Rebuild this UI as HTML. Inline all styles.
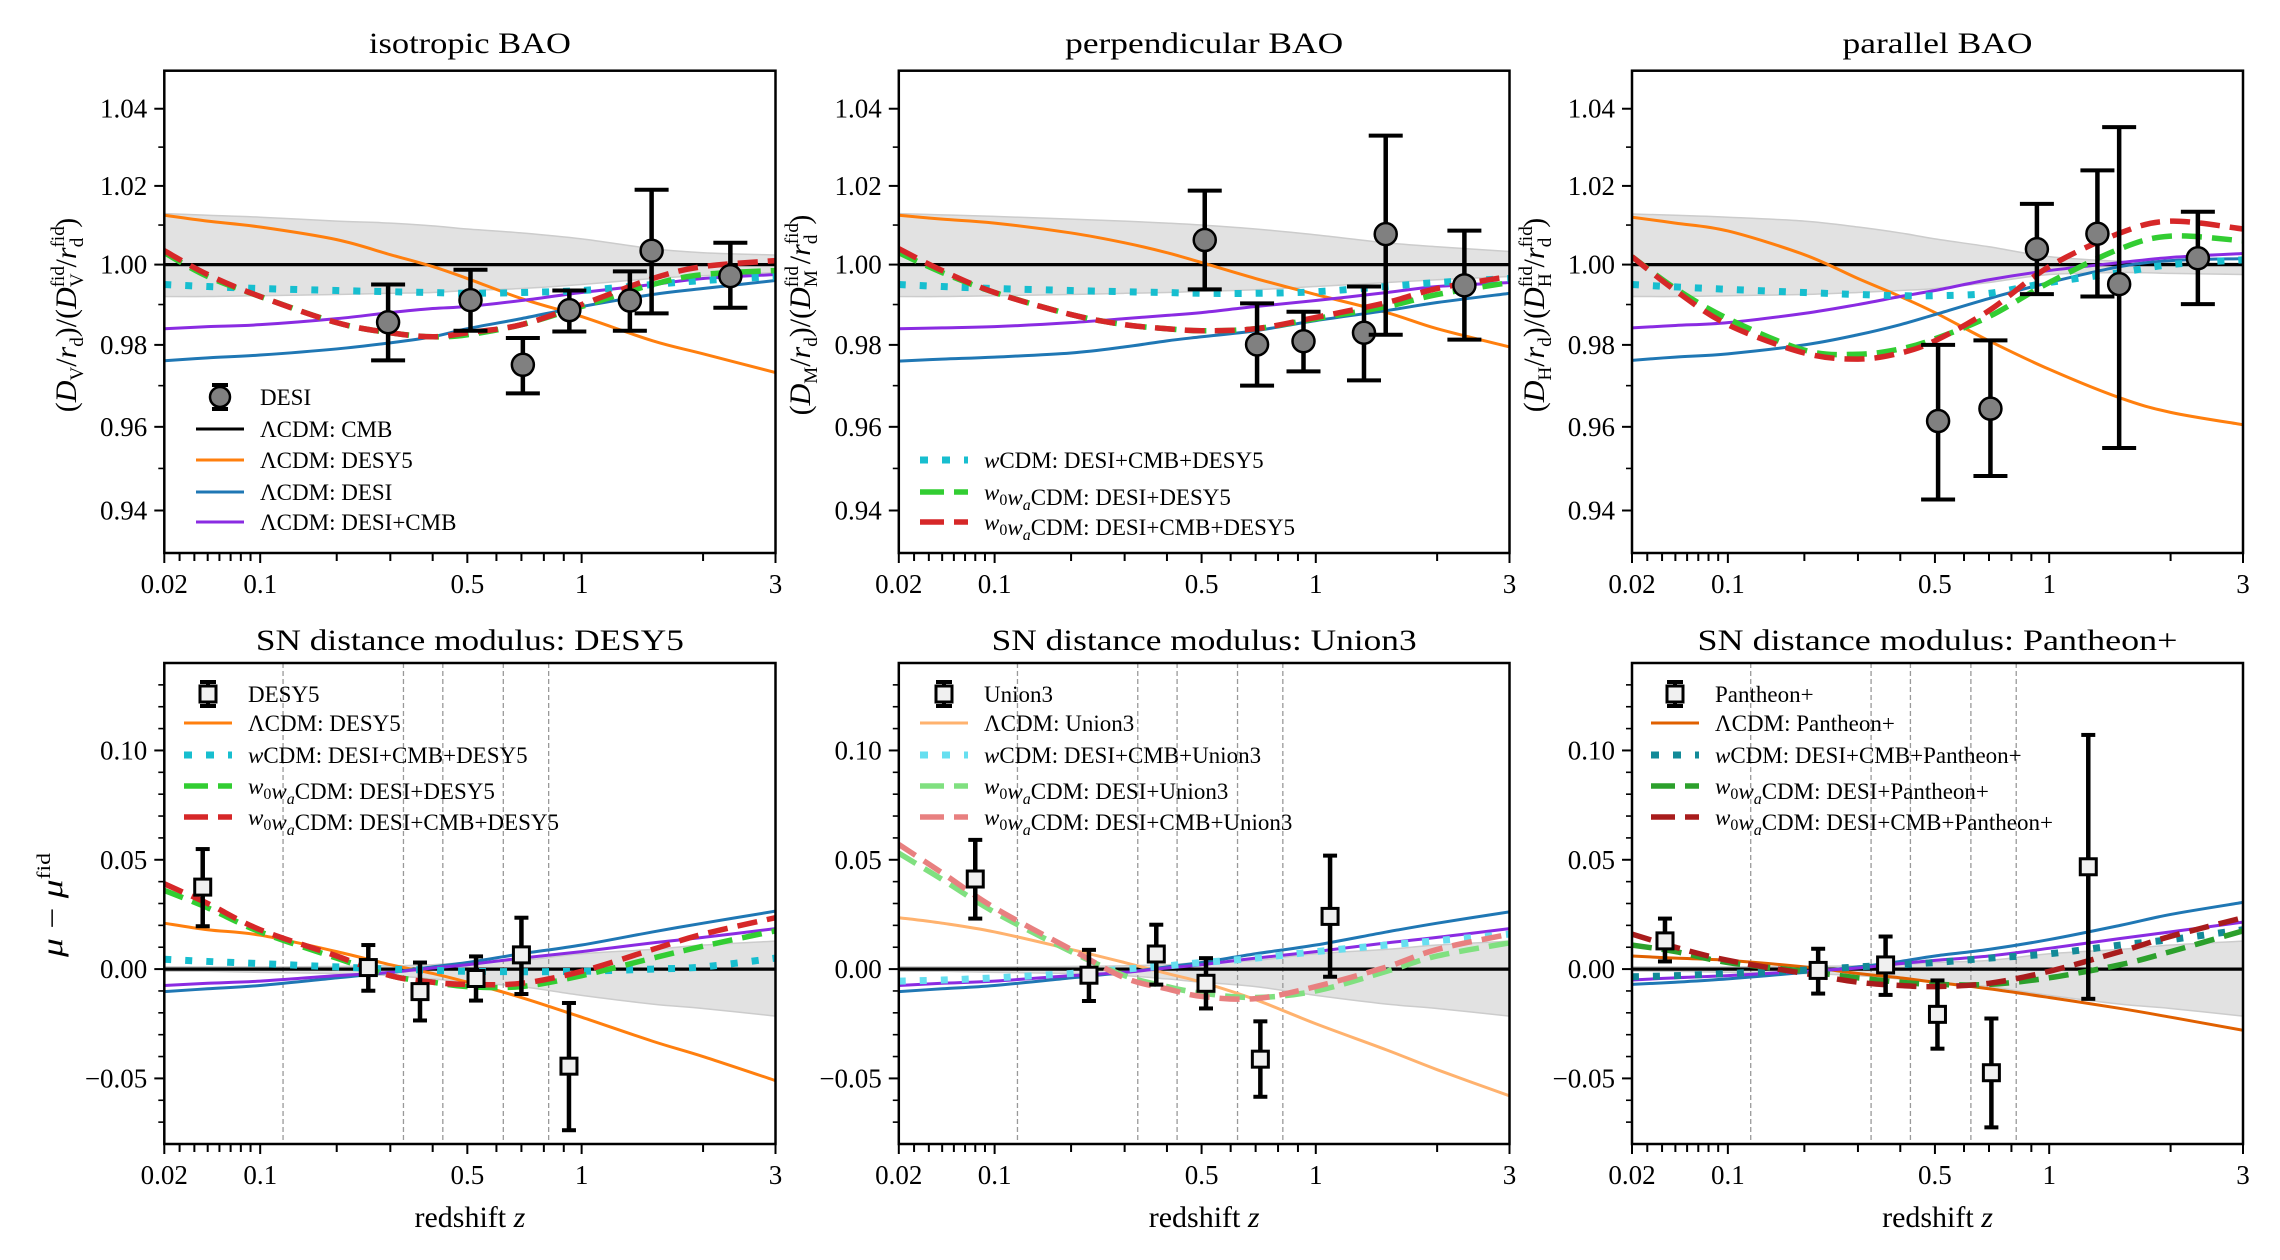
<!DOCTYPE html>
<html><head><meta charset="utf-8"><style>
html,body{margin:0;padding:0;background:#fff;}
svg{display:block;font-family:"Liberation Serif","DejaVu Serif",serif;}
</style></head><body>
<svg id="fig" xmlns="http://www.w3.org/2000/svg" width="2280" height="1260" viewBox="0 0 2280 1260"></svg>
<script>
// ---------- shared x grid for model curves ----------
const zc = [0.02,0.05,0.1,0.2,0.3,0.4,0.5,0.7,1,1.5,2,3];
// ---------- isotropic BAO ----------
const isoOrange = [1.0125,1.011,1.0095,1.0063,1.0025,0.9995,0.9965,0.9915,0.987,0.981,0.9778,0.9732];
const isoBlue   = [0.9761,0.9768,0.9775,0.979,0.9805,0.982,0.984,0.9865,0.9895,0.9925,0.994,0.996];
const isoPurple = [0.984,0.9845,0.985,0.9865,0.988,0.989,0.9895,0.991,0.993,0.995,0.9965,0.9975];
const isoCyan   = [0.995,0.9945,0.994,0.9935,0.9932,0.993,0.9928,0.993,0.9935,0.995,0.996,0.997];
const isoGreen  = [1.003,0.997,0.992,0.9855,0.983,0.982,0.9825,0.985,0.9895,0.995,0.9975,0.9985];
const isoRed    = [1.0035,0.9975,0.992,0.9855,0.983,0.982,0.983,0.985,0.990,0.9965,0.9995,1.001];
const isoBandHi = [1.0129,1.0125,1.012,1.011,1.0105,1.0098,1.009,1.008,1.0065,1.004,1.003,1.0024];
const isoBandLo = [0.992,0.992,0.9922,0.9925,0.9928,0.993,0.9935,0.994,0.995,0.9965,0.9972,0.998];
const isoZ   = [0.295,0.51,0.706,0.93,1.317,1.491,2.33];
const isoVal = [0.9856,0.9911,0.9751,0.9886,0.991,1.0035,0.9971];
const isoHi  = [0.995,0.9987,0.9817,0.9935,0.9983,1.019,1.0055];
const isoLo  = [0.9762,0.9835,0.9681,0.9833,0.9835,0.9878,0.9892];
// ---------- perpendicular BAO ----------
const dmOrange = [1.0125,1.0115,1.0105,1.008,1.0055,1.003,1.0005,0.9965,0.9925,0.988,0.984,0.9795];
const dmBlue   = [0.976,0.9765,0.977,0.978,0.9795,0.981,0.982,0.9835,0.986,0.9885,0.9905,0.9928];
const dmPurple = [0.984,0.9842,0.9845,0.9855,0.9865,0.9873,0.988,0.9895,0.991,0.993,0.9945,0.9955];
const dmCyan   = [0.995,0.9945,0.994,0.9935,0.9932,0.993,0.9928,0.9928,0.9932,0.9945,0.9955,0.9965];
const dmGreen  = [1.003,0.998,0.993,0.9875,0.985,0.984,0.9835,0.984,0.9865,0.9895,0.9925,0.9955];
const dmRed    = [1.004,0.9985,0.993,0.9875,0.985,0.984,0.9835,0.984,0.9868,0.9905,0.994,0.997];
const dmBandHi = [1.0129,1.0126,1.0122,1.0115,1.011,1.0105,1.01,1.009,1.0075,1.0055,1.0045,1.0033];
const dmBandLo = [0.992,0.992,0.9922,0.9925,0.9928,0.993,0.9933,0.9937,0.9945,0.9955,0.9962,0.997];
const dmZ   = [0.51,0.706,0.93,1.317,1.491,2.33];
const dmVal = [1.0062,0.9801,0.9809,0.983,1.0077,0.9948];
const dmHi  = [1.0188,0.9903,0.9882,0.9945,1.033,1.0086];
const dmLo  = [0.9938,0.970,0.9735,0.9713,0.9825,0.9813];
// ---------- parallel BAO ----------
const dhOrange = [1.012,1.0105,1.0085,1.0025,0.9965,0.992,0.988,0.981,0.974,0.967,0.9635,0.9605];
const dhBlue   = [0.9762,0.977,0.9778,0.980,0.9825,0.985,0.9875,0.9915,0.9955,0.9995,1.001,1.0015];
const dhPurple = [0.9842,0.9848,0.9855,0.9878,0.990,0.992,0.9935,0.9962,0.9985,1.0005,1.0018,1.0028];
const dhCyan   = [0.995,0.9944,0.9938,0.993,0.9925,0.9922,0.9922,0.9928,0.9955,0.998,1.000,1.0012];
const dhGreen  = [1.002,0.994,0.9865,0.9787,0.9777,0.979,0.9815,0.987,0.9955,1.004,1.0072,1.006];
const dhRed    = [1.002,0.9935,0.985,0.978,0.9765,0.978,0.981,0.9885,0.9995,1.008,1.011,1.009];
const dhBandHi = [1.0128,1.0125,1.012,1.011,1.0095,1.008,1.0065,1.0045,1.002,1.0008,1.0005,1.0003];
const dhBandLo = [0.992,0.992,0.9922,0.9925,0.993,0.9935,0.994,0.9955,0.9975,0.998,0.9978,0.9975];
const dhZ   = [0.51,0.706,0.93,1.317,1.491,2.33];
const dhVal = [0.9614,0.9644,1.0039,1.0078,0.9951,1.0016];
const dhHi  = [0.980,0.9811,1.0154,1.024,1.0352,1.0134];
const dhLo  = [0.9426,0.9482,0.9926,0.992,0.9549,0.9901];
// ---------- SN: DESY5 ----------
const d5Orange = [0.021,0.018,0.0155,0.008,0.002,-0.002,-0.006,-0.013,-0.022,-0.033,-0.040,-0.051];
const d5Blue   = [-0.0103,-0.009,-0.0075,-0.004,-0.0015,0.001,0.003,0.007,0.011,0.017,0.021,0.0265];
const d5Purple = [-0.0075,-0.0065,-0.0055,-0.003,-0.0015,0.0005,0.002,0.005,0.008,0.012,0.0145,0.0185];
const d5Cyan   = [0.0045,0.0035,0.0025,0.001,0,-0.0005,-0.001,-0.0012,-0.001,0,0.001,0.005];
const d5Green  = [0.036,0.028,0.017,0.005,-0.003,-0.006,-0.008,-0.008,-0.003,0.005,0.0105,0.0175];
const d5Red    = [0.039,0.030,0.018,0.006,-0.003,-0.006,-0.007,-0.0065,-0.001,0.009,0.016,0.0235];
const snBandHi = [0.001,0.001,0.001,0.0012,0.0015,0.002,0.003,0.004,0.007,0.009,0.011,0.0128];
const snBandLo = [-0.001,-0.001,-0.0015,-0.002,-0.003,-0.0045,-0.006,-0.008,-0.012,-0.016,-0.018,-0.0215];
const d5Z   = [0.046,0.254,0.367,0.528,0.70,0.928];
const d5Val = [0.0375,0.0007,-0.0103,-0.0043,0.0065,-0.0444];
const d5Hi  = [0.0549,0.011,0.003,0.0058,0.0235,-0.0155];
const d5Lo  = [0.0196,-0.0099,-0.0235,-0.0144,-0.0114,-0.0737];
// ---------- SN: Union3 ----------
const u3Orange = [0.0235,0.021,0.017,0.009,0.003,-0.002,-0.006,-0.014,-0.025,-0.037,-0.046,-0.058];
const u3Blue   = [-0.0103,-0.009,-0.0075,-0.004,-0.0015,0.001,0.003,0.007,0.011,0.017,0.021,0.0262];
const u3Purple = [-0.0075,-0.0065,-0.0055,-0.003,-0.0015,0.0005,0.002,0.005,0.008,0.012,0.0145,0.0185];
const u3Cyan   = [-0.0055,-0.005,-0.004,-0.002,0,0.0015,0.003,0.005,0.008,0.011,0.013,0.016];
const u3Green  = [0.053,0.041,0.026,0.008,-0.003,-0.008,-0.011,-0.013,-0.010,-0.001,0.006,0.012];
const u3Red    = [0.057,0.044,0.028,0.009,-0.004,-0.009,-0.0125,-0.0135,-0.008,0.001,0.009,0.016];
const u3Z   = [0.08,0.229,0.372,0.514,0.72,1.085];
const u3Val = [0.0412,-0.0028,0.0069,-0.0065,-0.0412,0.0241];
const u3Hi  = [0.0591,0.0088,0.0203,0.005,-0.0239,0.0519];
const u3Lo  = [0.0231,-0.0146,-0.0071,-0.018,-0.0584,-0.0035];
// ---------- SN: Pantheon+ ----------
const ppOrange = [0.006,0.005,0.004,0.001,-0.002,-0.004,-0.006,-0.009,-0.013,-0.018,-0.022,-0.028];
const ppBlue   = [-0.007,-0.006,-0.0045,-0.0015,0.001,0.0035,0.006,0.009,0.0135,0.020,0.025,0.0305];
const ppPurple = [-0.005,-0.004,-0.003,-0.001,0.0005,0.0025,0.004,0.006,0.0095,0.014,0.017,0.0215];
const ppCyan   = [-0.0035,-0.003,-0.002,-0.0005,0.001,0.002,0.003,0.005,0.007,0.011,0.0135,0.018];
const ppGreen  = [0.011,0.008,0.003,-0.001,-0.004,-0.006,-0.007,-0.007,-0.004,0.002,0.008,0.0175];
const ppRed    = [0.016,0.010,0.004,-0.002,-0.006,-0.0075,-0.008,-0.0065,-0.001,0.008,0.015,0.0235];
const ppZ   = [0.042,0.222,0.362,0.508,0.71,1.25];
const ppVal = [0.0129,-0.0006,0.0019,-0.0207,-0.0474,0.0468];
const ppHi  = [0.0231,0.0093,0.0149,-0.0052,-0.0226,0.1071];
const ppLo  = [0.0035,-0.0112,-0.0118,-0.0364,-0.0724,-0.0136];
// redshift bin edges (dashed verticals)
const binEdges = [0.123,0.328,0.427,0.626,0.823];
// tick values
const xTickVals = [0.02,0.03,0.04,0.05,0.06,0.07,0.08,0.09,0.1,0.2,0.3,0.4,0.5,0.6,0.7,0.8,0.9,1,2,3];
const xTickLabels = {0.02:"0.02",0.1:"0.1",0.5:"0.5",1:"1",3:"3"};
const topMajor = [0.94,0.96,0.98,1.00,1.02,1.04];
const topMinor = [0.95,0.97,0.99,1.01,1.03];
const botMajor = [-0.05,0,0.05,0.10];
const botLabels = ["\u22120.05","0.00","0.05","0.10"];

// ---------- axis machinery ----------
const ZK = [0.02,0.03,0.04,0.05,0.06,0.07,0.08,0.09,0.1,0.2,0.3,0.4,0.5,0.6,0.7,0.8,0.9,1,2,3];
const FK = [0,0.025,0.0492,0.071,0.0902,0.1085,0.1252,0.1411,0.1569,0.2821,0.3698,0.4391,0.4958,0.5434,0.5843,0.621,0.6536,0.6828,0.8815,1];
function frac(z){
  if(z<=ZK[0]) return 0;
  for(let i=0;i<ZK.length-1;i++){
    if(z<=ZK[i+1]){const t=Math.log(z/ZK[i])/Math.log(ZK[i+1]/ZK[i]);return FK[i]+t*(FK[i+1]-FK[i]);}
  }
  return 1;
}
const COLS=[[164.3,775.5],[898.8,1509.5],[1632,2243]];
const TOP=[70.7,553], BOT=[663,1144];
function mkX(c){const [a,b]=COLS[c];return z=>a+frac(z)*(b-a);}
function mkYtop(){const l0=Math.log(1.05),l1=Math.log(0.93);return v=>TOP[0]+(l0-Math.log(v))/(l0-l1)*(TOP[1]-TOP[0]);}
function mkYbot(){return v=>BOT[0]+(0.14-v)/(0.22)*(BOT[1]-BOT[0]);}

const NS="http://www.w3.org/2000/svg";
const svg=document.getElementById('fig');
function el(tag,attrs,parent){const e=document.createElementNS(NS,tag);for(const k in attrs)e.setAttribute(k,attrs[k]);(parent||svg).appendChild(e);return e;}

function smoothPath(pts){
  let d="M"+pts[0][0].toFixed(2)+","+pts[0][1].toFixed(2);
  for(let i=0;i<pts.length-1;i++){
    const p0=pts[i-1]||pts[i],p1=pts[i],p2=pts[i+1],p3=pts[i+2]||p2;
    const c1=[p1[0]+(p2[0]-p0[0])/6,p1[1]+(p2[1]-p0[1])/6];
    const c2=[p2[0]-(p3[0]-p1[0])/6,p2[1]-(p3[1]-p1[1])/6];
    d+=" C"+c1[0].toFixed(2)+","+c1[1].toFixed(2)+" "+c2[0].toFixed(2)+","+c2[1].toFixed(2)+" "+p2[0].toFixed(2)+","+p2[1].toFixed(2);
  }
  return d;
}
const STY={
  solid:{w:3,dash:null},
  dot:{w:7,dash:"7 14"},
  dash:{w:5.5,dash:"20 10"}
};
function drawCurve(g,X,Y,vals,color,kind,name){
  const pts=zc.map((z,i)=>[X(z),Y(vals[i])]);
  const s=STY[kind];
  const p=el('path',{d:smoothPath(pts),fill:'none',stroke:color,'stroke-width':s.w,'stroke-linecap':'butt'},g);
  if(s.dash)p.setAttribute('stroke-dasharray',s.dash);
  
  
}
function drawBand(g,X,Y,hi,lo){
  const up=zc.map((z,i)=>[X(z),Y(hi[i])]);
  const dn=zc.map((z,i)=>[X(z),Y(lo[i])]).reverse();
  const d=smoothPath(up)+" L"+dn[0][0]+","+dn[0][1]+smoothPath(dn).replace(/^M[^C]*/," ")+" Z";
  const p=el('path',{d:d,fill:'#e2e2e2',stroke:'#cccccc','stroke-width':1.5},g);
  
  
}
function drawPoints(g,X,Y,zs,vals,his,los,marker,cap){
  zs.forEach((z,i)=>{
    const x=X(z);
    const pg=el('g',{},g);
    
    
    el('line',{x1:x,x2:x,y1:Y(his[i]),y2:Y(los[i]),stroke:'#000','stroke-width':4.5},pg);
    el('line',{x1:x-cap,x2:x+cap,y1:Y(his[i]),y2:Y(his[i]),stroke:'#000','stroke-width':4},pg);
    el('line',{x1:x-cap,x2:x+cap,y1:Y(los[i]),y2:Y(los[i]),stroke:'#000','stroke-width':4},pg);
    if(marker==='circle') el('circle',{cx:x,cy:Y(vals[i]),r:11,fill:'#808080',stroke:'#000','stroke-width':2.5},pg);
    else el('rect',{x:x-8,y:Y(vals[i])-8,width:16,height:16,fill:'#f0f0f0',stroke:'#000','stroke-width':3},pg);
  });
}
function drawAxes(g,c,row,X,Y){
  const [x0,x1]=COLS[c]; const [y0,y1]=row===0?TOP:BOT;
  xTickVals.forEach(z=>{
    const x=X(z);const lab=xTickLabels[z];
    el('line',{x1:x,x2:x,y1:y1,y2:y1+(lab?10:8),stroke:'#000','stroke-width':2},g);
    if(lab){const t=el('text',{x:x,y:y1+40,'font-size':27,'text-anchor':'middle'},g);t.textContent=lab;
      }
  });
  if(row===0){
    topMajor.forEach(v=>{const y=Y(v);el('line',{x1:x0-10,x2:x0,y1:y,y2:y,stroke:'#000','stroke-width':2},g);
      const t=el('text',{x:x0-17,y:y+9,'font-size':27,'text-anchor':'end'},g);t.textContent=v.toFixed(2);
      });
    topMinor.forEach(v=>{const y=Y(v);el('line',{x1:x0-6,x2:x0,y1:y,y2:y,stroke:'#000','stroke-width':1.6},g);});
  } else {
    botMajor.forEach((v,i)=>{const y=Y(v);el('line',{x1:x0-10,x2:x0,y1:y,y2:y,stroke:'#000','stroke-width':2},g);
      const t=el('text',{x:x0-17,y:y+9,'font-size':27,'text-anchor':'end'},g);t.textContent=botLabels[i];
      });
    for(let k=-7;k<=13;k++){if(k%5===0)continue;const y=Y(k/100);el('line',{x1:x0-6,x2:x0,y1:y,y2:y,stroke:'#000','stroke-width':1.6},g);}
  }
  el('rect',{x:x0,y:y0,width:x1-x0,height:y1-y0,fill:'none',stroke:'#000','stroke-width':2.5},g);
}
function title(c,y,txt,len){
  const [a,b]=COLS[c];
  const t=el('text',{x:(a+b)/2,y:y,'font-size':30,'text-anchor':'middle',textLength:len,lengthAdjust:'spacingAndGlyphs'});
  t.textContent=txt;
  
  
}
function legendRow(g,x,y,kind,color,html,name){
  const r=el('g',{},g);
  
  
  if(kind==='circle'||kind==='square'){
    const cx=x+24;
    el('line',{x1:cx,x2:cx,y1:y-12,y2:y+12,stroke:'#000','stroke-width':4},r);
    el('line',{x1:cx-8,x2:cx+8,y1:y-12,y2:y-12,stroke:'#000','stroke-width':4},r);
    el('line',{x1:cx-8,x2:cx+8,y1:y+12,y2:y+12,stroke:'#000','stroke-width':4},r);
    if(kind==='circle')el('circle',{cx:cx,cy:y,r:10,fill:'#808080',stroke:'#000','stroke-width':2.5},r);
    else el('rect',{x:cx-8,y:y-8,width:16,height:16,fill:'#f0f0f0',stroke:'#000','stroke-width':3},r);
  } else {
    const s=STY[kind];
    const l=el('line',{x1:x,x2:x+48,y1:y,y2:y,stroke:color,'stroke-width':s.w},r);
    if(kind==='dot')l.setAttribute('stroke-dasharray','8 14');
    if(kind==='dash')l.setAttribute('stroke-dasharray','24 10');
  }
  const t=el('text',{x:x+64,y:y+8,'font-size':23},r);
  t.innerHTML=html;
}
const W='<tspan font-style="italic">w</tspan>';
const W0W=W+'<tspan font-size="16" dy="5">0</tspan><tspan dy="-5">'+'</tspan>'+W+'<tspan font-size="16" font-style="italic" dy="5">a</tspan><tspan dy="-5">CDM</tspan>';

// ---------- build panels ----------
const topPanels=[
  {c:0,name:'isotropic-bao-panel',t:'isotropic BAO',tl:202,o:isoOrange,b:isoBlue,p:isoPurple,cy:isoCyan,g:isoGreen,r:isoRed,hi:isoBandHi,lo:isoBandLo,z:isoZ,v:isoVal,eh:isoHi,el:isoLo},
  {c:1,name:'perpendicular-bao-panel',t:'perpendicular BAO',tl:278,o:dmOrange,b:dmBlue,p:dmPurple,cy:dmCyan,g:dmGreen,r:dmRed,hi:dmBandHi,lo:dmBandLo,z:dmZ,v:dmVal,eh:dmHi,el:dmLo},
  {c:2,name:'parallel-bao-panel',t:'parallel BAO',tl:190,o:dhOrange,b:dhBlue,p:dhPurple,cy:dhCyan,g:dhGreen,r:dhRed,hi:dhBandHi,lo:dhBandLo,z:dhZ,v:dhVal,eh:dhHi,el:dhLo}
];
const Yt=mkYtop(), Yb=mkYbot();
topPanels.forEach(P=>{
  const X=mkX(P.c);
  const g=el('g',{});
  
  
  const cp=el('clipPath',{id:'cpt'+P.c},g);
  el('rect',{x:COLS[P.c][0],y:TOP[0],width:COLS[P.c][1]-COLS[P.c][0],height:TOP[1]-TOP[0]},cp);
  const pg=el('g',{'clip-path':'url(#cpt'+P.c+')'},g);
  drawBand(pg,X,Yt,P.hi,P.lo);
  el('line',{x1:COLS[P.c][0],x2:COLS[P.c][1],y1:Yt(1),y2:Yt(1),stroke:'#000','stroke-width':3.2},pg);
  drawCurve(pg,X,Yt,P.o,'#ff7f0e','solid','lcdm-desy5-curve');
  drawCurve(pg,X,Yt,P.b,'#1f77b4','solid','lcdm-desi-curve');
  drawCurve(pg,X,Yt,P.p,'#8a2be2','solid','lcdm-desi-cmb-curve');
  drawCurve(pg,X,Yt,P.cy,'#17becf','dot','wcdm-curve');
  drawCurve(pg,X,Yt,P.g,'#32cd32','dash','w0wacdm-desi-desy5-curve');
  drawCurve(pg,X,Yt,P.r,'#d62728','dash','w0wacdm-desi-cmb-desy5-curve');
  drawPoints(g,X,Yt,P.z,P.v,P.eh,P.el,'circle',17);
  drawAxes(g,P.c,0,X,Yt);
  title(P.c,53,P.t,P.tl);
});
const botPanels=[
  {c:0,name:'sn-desy5-panel',t:'SN distance modulus: DESY5',tl:428,lab:'DESY5',o:d5Orange,b:d5Blue,p:d5Purple,cy:d5Cyan,g:d5Green,r:d5Red,z:d5Z,v:d5Val,eh:d5Hi,el:d5Lo,
   cols:['#ff7f0e','#17becf','#32cd32','#d62728'],lx:184},
  {c:1,name:'sn-union3-panel',t:'SN distance modulus: Union3',tl:425,lab:'Union3',o:u3Orange,b:u3Blue,p:u3Purple,cy:u3Cyan,g:u3Green,r:u3Red,z:u3Z,v:u3Val,eh:u3Hi,el:u3Lo,
   cols:['#ffb26e','#66dff0','#80e080','#e88080'],lx:920},
  {c:2,name:'sn-pantheon-panel',t:'SN distance modulus: Pantheon+',tl:480,lab:'Pantheon+',o:ppOrange,b:ppBlue,p:ppPurple,cy:ppCyan,g:ppGreen,r:ppRed,z:ppZ,v:ppVal,eh:ppHi,el:ppLo,
   cols:['#e06000','#128a98','#2ca02c','#a81c1c'],lx:1651}
];
botPanels.forEach(P=>{
  const X=mkX(P.c);
  const g=el('g',{});
  
  
  const cp=el('clipPath',{id:'cpb'+P.c},g);
  el('rect',{x:COLS[P.c][0],y:BOT[0],width:COLS[P.c][1]-COLS[P.c][0],height:BOT[1]-BOT[0]},cp);
  const pg=el('g',{'clip-path':'url(#cpb'+P.c+')'},g);
  drawBand(pg,X,Yb,snBandHi,snBandLo);
  binEdges.forEach(z=>{const l=el('line',{x1:X(z),x2:X(z),y1:BOT[0],y2:BOT[1],stroke:'#999','stroke-width':1.3,'stroke-dasharray':'5 3'},pg);
    });
  el('line',{x1:COLS[P.c][0],x2:COLS[P.c][1],y1:Yb(0),y2:Yb(0),stroke:'#000','stroke-width':3.2},pg);
  drawCurve(pg,X,Yb,P.o,P.cols[0],'solid','lcdm-sn-curve');
  drawCurve(pg,X,Yb,P.b,'#1f77b4','solid','lcdm-desi-curve');
  drawCurve(pg,X,Yb,P.p,'#8a2be2','solid','lcdm-desi-cmb-curve');
  drawCurve(pg,X,Yb,P.cy,P.cols[1],'dot','wcdm-curve');
  drawCurve(pg,X,Yb,P.g,P.cols[2],'dash','w0wacdm-desi-sn-curve');
  drawCurve(pg,X,Yb,P.r,P.cols[3],'dash','w0wacdm-desi-cmb-sn-curve');
  drawPoints(g,X,Yb,P.z,P.v,P.eh,P.el,'square',7);
  drawAxes(g,P.c,1,X,Yb);
  title(P.c,650,P.t,P.tl);
  const lg=el('g',{},g);
  
  
  const lx=P.lx;
  legendRow(lg,lx,694,'square','#000',P.lab,'legend-entry-data');
  legendRow(lg,lx,723,'solid',P.cols[0],'\u039BCDM: '+P.lab,'legend-entry-lcdm');
  legendRow(lg,lx,755,'dot',P.cols[1],W+'CDM: DESI+CMB+'+P.lab,'legend-entry-wcdm');
  legendRow(lg,lx,786,'dash',P.cols[2],W0W+': DESI+'+P.lab,'legend-entry-w0wa');
  legendRow(lg,lx,817,'dash',P.cols[3],W0W+': DESI+CMB+'+P.lab,'legend-entry-w0wa-cmb');
  const xl=el('text',{x:(COLS[P.c][0]+COLS[P.c][1])/2,y:1227,'font-size':30,'text-anchor':'middle'});
  xl.innerHTML='redshift <tspan font-style="italic">z</tspan>';
  
  
});
// top legends
const lg1=el('g',{});


legendRow(lg1,196,397,'circle','#000','DESI','legend-entry-desi');
legendRow(lg1,196,429,'solid','#000','\u039BCDM: CMB','legend-entry-lcdm-cmb');
legendRow(lg1,196,460,'solid','#ff7f0e','\u039BCDM: DESY5','legend-entry-lcdm-desy5');
legendRow(lg1,196,492,'solid','#1f77b4','\u039BCDM: DESI','legend-entry-lcdm-desi');
legendRow(lg1,196,522,'solid','#8a2be2','\u039BCDM: DESI+CMB','legend-entry-lcdm-desi-cmb');
const lg2=el('g',{});


legendRow(lg2,920,460,'dot','#17becf',W+'CDM: DESI+CMB+DESY5','legend-entry-wcdm');
legendRow(lg2,920,492,'dash','#32cd32',W0W+': DESI+DESY5','legend-entry-w0wa');
legendRow(lg2,920,522,'dash','#d62728',W0W+': DESI+CMB+DESY5','legend-entry-w0wa-cmb');
// y-axis titles
function ylab(x,y,html,len,name){
  const a={x:0,y:0,'font-size':30,'text-anchor':'middle',transform:'translate('+x+','+y+') rotate(-90)'};
  if(len){a.textLength=len;a.lengthAdjust='spacingAndGlyphs';}
  const t=el('text',a);
  t.innerHTML=html;
  
  
}
function baoLab(s){
  return '(<tspan font-style="italic">D</tspan><tspan font-size="19" dy="7">'+s+'</tspan><tspan dy="-7">/</tspan><tspan font-style="italic">r</tspan><tspan font-size="19" dy="7">d</tspan><tspan dy="-7">)/(</tspan><tspan font-style="italic">D</tspan><tspan font-size="19" dy="-12">fid</tspan><tspan font-size="19" dx="-21" dy="19">'+s+'</tspan><tspan dx="6" dy="-7">/</tspan><tspan font-style="italic">r</tspan><tspan font-size="19" dy="-12">fid</tspan><tspan font-size="19" dx="-21" dy="19">d</tspan><tspan dx="10" dy="-7">)</tspan>';
}
ylab(76,315,baoLab('V'),0,'y-axis-title-isotropic');
ylab(810,315,baoLab('M'),0,'y-axis-title-perpendicular');
ylab(1544,315,baoLab('H'),0,'y-axis-title-parallel');
ylab(62,905,'<tspan font-style="italic">\u03BC</tspan> \u2212 <tspan font-style="italic">\u03BC</tspan><tspan font-size="19" dy="-12">fid</tspan>',104,'y-axis-title-mu');
</script>
</body></html>
